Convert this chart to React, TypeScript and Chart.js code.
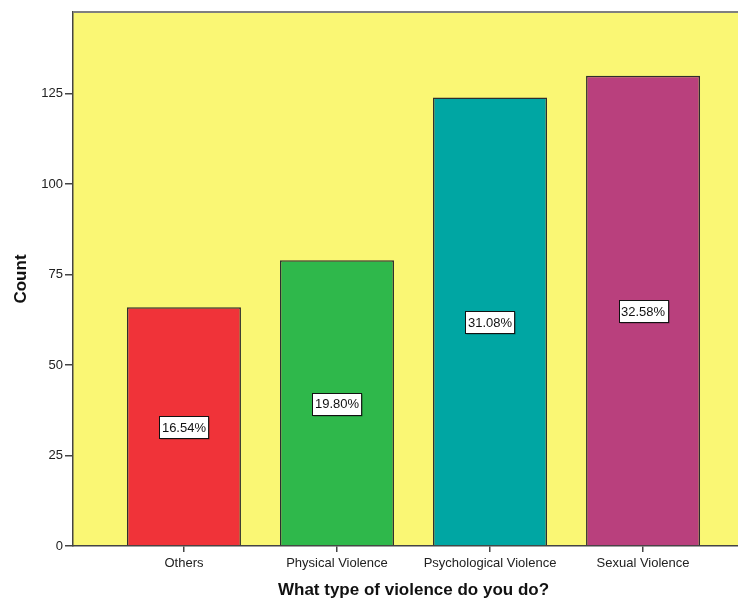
import React, { useEffect, useRef } from "react";
import { Chart, registerables } from "chart.js";

Chart.register(...registerables);

const categories = ["Others", "Physical Violence", "Psychological Violence", "Sexual Violence"];
const counts = [66, 79, 124, 130];
const barColors = ["#F03339", "#2FB84B", "#00A6A3", "#B9407D"];
const yTicks = [0, 25, 50, 75, 100, 125];
const yMax = 147.6;
const xTitle = "What type of violence do you do?";
const yTitle = "Count";

const FONT = "'Liberation Sans', Arial, sans-serif";
const PLOT_BG = "#FAF774";

export default function App() {
  const ref = useRef<HTMLCanvasElement | null>(null);

  useEffect(() => {
    if (!ref.current) return;
    const total = counts.reduce((a, b) => a + b, 0);

    const bgPlugin = {
      id: "bgPlugin",
      beforeDraw(chart: any) {
        const { ctx, chartArea } = chart;
        ctx.save();
        ctx.fillStyle = PLOT_BG;
        ctx.fillRect(chartArea.left, chartArea.top, chartArea.right - chartArea.left, chartArea.bottom - chartArea.top);
        ctx.restore();
      },
      afterDraw(chart: any) {
        const { ctx, chartArea } = chart;
        ctx.save();
        ctx.strokeStyle = "#808080";
        ctx.lineWidth = 2;
        ctx.beginPath();
        ctx.moveTo(chartArea.left, chartArea.top);
        ctx.lineTo(chartArea.right, chartArea.top);
        ctx.stroke();
        ctx.restore();
      },
    };

    const labelPlugin = {
      id: "labelPlugin",
      afterDatasetsDraw(chart: any) {
        const { ctx } = chart;
        const meta = chart.getDatasetMeta(0);
        ctx.save();
        ctx.font = `13px ${FONT}`;
        ctx.textAlign = "center";
        ctx.textBaseline = "middle";
        meta.data.forEach((bar: any, i: number) => {
          const text = ((counts[i] / total) * 100).toFixed(2) + "%";
          const cx = bar.x;
          const cy = (bar.y + bar.base) / 2 + 1;
          const w = ctx.measureText(text).width + 5;
          const h = 22;
          const x0 = Math.round(cx - w / 2) + 0.5;
          const y0 = Math.round(cy - h / 2) + 0.5;
          ctx.fillStyle = "rgba(0,0,0,0.3)";
          ctx.fillRect(x0 + 1, y0 + 1, w, h);
          ctx.fillStyle = "#FFFFFF";
          ctx.fillRect(x0, y0, w, h);
          ctx.strokeStyle = "#111";
          ctx.lineWidth = 1;
          ctx.strokeRect(x0, y0, w, h);
          ctx.fillStyle = "#111";
          ctx.fillText(text, cx, cy + 1);
        });
        ctx.restore();
      },
    };

    const chart = new Chart(ref.current, {
      type: "bar",
      data: {
        datasets: [
          {
            data: counts.map((v, i) => ({ x: i, y: v })),
            backgroundColor: barColors,
            borderColor: "#2e2e2e",
            borderWidth: 1.5,
            categoryPercentage: 1,
            barPercentage: 0.745,
          },
        ],
      },
      options: {
        animation: false,
        responsive: true,
        maintainAspectRatio: false,
        layout: { padding: { top: 12, right: 6, left: 0, bottom: 0 } },
        plugins: { legend: { display: false }, tooltip: { enabled: false } },
        scales: {
          x: {
            type: "linear",
            offset: false,
            min: -0.725,
            max: 3.725,
            afterBuildTicks(scale: any) {
              scale.ticks = categories.map((_, i) => ({ value: i }));
            },
            afterFit(scale: any) {
              scale.height = 55;
            },
            ticks: {
              autoSkip: false,
              maxRotation: 0,
              padding: 4,
              color: "#222",
              font: { family: FONT, size: 13 },
              callback: (v: any) => categories[v as number] ?? "",
            },
            grid: { offset: false, drawOnChartArea: false, drawTicks: true, tickLength: 6, color: "#444", lineWidth: 1.5 },
            border: { display: true, color: "#444", width: 1.5 },
            title: {
              display: true,
              text: xTitle,
              color: "#111",
              font: { family: FONT, size: 17, weight: "bold" },
              padding: { top: 0, bottom: 0 },
            },
          },
          y: {
            min: 0,
            max: yMax,
            afterBuildTicks(scale: any) {
              scale.ticks = yTicks.map((v) => ({ value: v }));
            },
            afterFit(scale: any) {
              scale.width = 73;
            },
            ticks: {
              padding: 2,
              color: "#222",
              font: { family: FONT, size: 13 },
            },
            grid: { drawOnChartArea: false, drawTicks: true, tickLength: 8, color: "#444", lineWidth: 1.5 },
            border: { display: true, color: "#444", width: 1.5 },
            title: {
              display: true,
              text: yTitle,
              color: "#111",
              font: { family: FONT, size: 17, weight: "bold" },
              padding: { top: 11, bottom: 0 },
            },
          },
        },
      },
      plugins: [bgPlugin, labelPlugin],
    } as any);

    return () => chart.destroy();
  }, []);

  return (
    <div style={{ position: "fixed", left: 0, top: 0, width: 738, height: 601, overflow: "hidden", background: "#fff" }}>
      <div style={{ position: "relative", width: 760, height: 601 }}>
        <canvas ref={ref} />
      </div>
    </div>
  );
}
